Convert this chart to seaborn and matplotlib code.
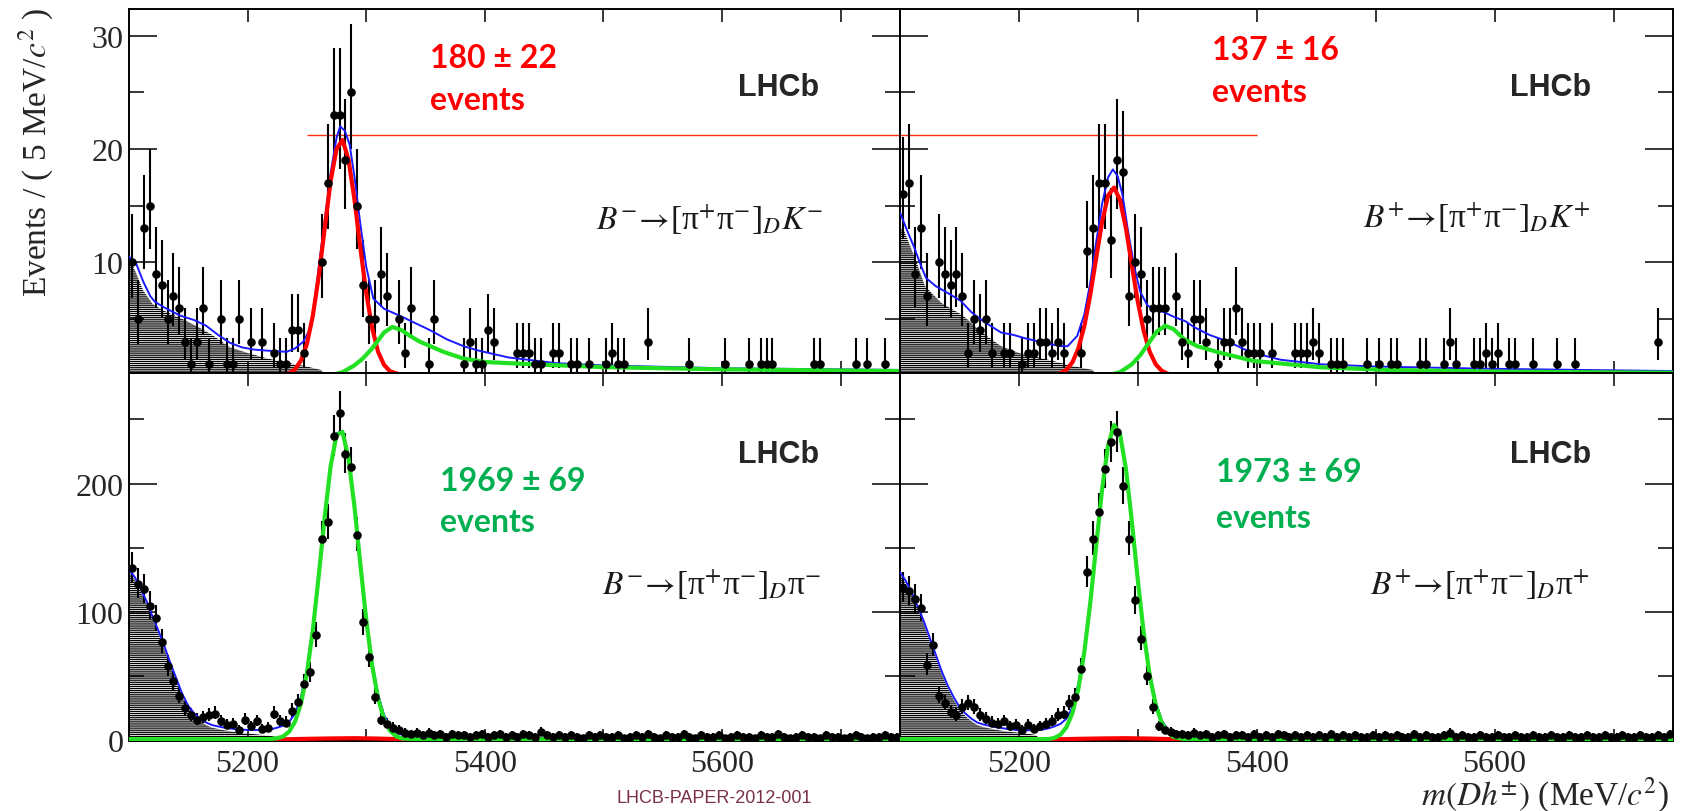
import numpy as np
import pandas as pd
import matplotlib
matplotlib.use("Agg")
import matplotlib.pyplot as plt
import seaborn as sns
from matplotlib.ticker import FixedLocator

# ---------------- data ----------------
# top-left  B- -> [pi pi]_D K-   (only non-empty 5 MeV bins)
tl_mass = [5102.5, 5107.5, 5112.5, 5117.5, 5122.5, 5127.5, 5132.5, 5137.5, 5142.5, 5147.5,
           5152.5, 5157.5, 5162.5, 5167.5, 5177.5, 5182.5, 5187.5, 5192.5, 5202.5, 5212.5,
           5222.5, 5227.5, 5232.5, 5237.5, 5242.5, 5247.5, 5262.5, 5267.5, 5272.5, 5277.5,
           5282.5, 5287.5, 5292.5, 5297.5, 5302.5, 5307.5, 5312.5, 5317.5, 5327.5, 5332.5,
           5337.5, 5352.5, 5357.5, 5382.5, 5387.5, 5392.5, 5397.5, 5402.5, 5407.5, 5427.5,
           5432.5, 5437.5, 5442.5, 5447.5, 5457.5, 5462.5, 5472.5, 5477.5, 5487.5, 5502.5,
           5507.5, 5512.5, 5517.5, 5537.5, 5572.5, 5602.5, 5622.5, 5632.5, 5637.5, 5642.5,
           5677.5, 5682.5, 5712.5, 5722.5, 5737.5]
tl_count = [10, 5, 13, 15, 9, 8, 5, 7, 6, 3,
            1, 3, 6, 1, 5, 1, 1, 5, 3, 3,
            2, 1, 1, 4, 4, 2, 10, 17, 23, 23,
            19, 25, 15, 8, 5, 5, 9, 7, 5, 2,
            6, 1, 5, 1, 3, 1, 1, 4, 3, 2,
            2, 2, 1, 1, 2, 2, 1, 1, 1, 1,
            2, 1, 1, 3, 1, 1, 1, 1, 1, 1,
            1, 1, 1, 1, 1]

# top-right  B+ -> [pi pi]_D K+
tr_mass = [5102.5, 5107.5, 5112.5, 5117.5, 5122.5, 5132.5, 5137.5, 5142.5, 5147.5, 5152.5,
           5157.5, 5162.5, 5167.5, 5172.5, 5177.5, 5187.5, 5192.5, 5202.5, 5207.5, 5212.5,
           5217.5, 5222.5, 5227.5, 5232.5, 5237.5, 5252.5, 5257.5, 5262.5, 5267.5, 5272.5,
           5277.5, 5282.5, 5287.5, 5292.5, 5297.5, 5302.5, 5307.5, 5312.5, 5317.5, 5322.5,
           5332.5, 5337.5, 5342.5, 5347.5, 5352.5, 5357.5, 5367.5, 5372.5, 5377.5, 5382.5,
           5387.5, 5392.5, 5397.5, 5402.5, 5412.5, 5432.5, 5437.5, 5442.5, 5447.5, 5452.5,
           5462.5, 5467.5, 5472.5, 5492.5, 5502.5, 5512.5, 5517.5, 5537.5, 5542.5, 5557.5,
           5562.5, 5567.5, 5582.5, 5587.5, 5592.5, 5597.5, 5602.5, 5612.5, 5617.5, 5632.5,
           5652.5, 5667.5, 5737.5]
tr_count = [16, 17, 9, 13, 7, 10, 9, 8, 9, 7,
            2, 5, 4, 5, 2, 2, 2, 1, 2, 2,
            3, 3, 2, 3, 2, 2, 11, 13, 17, 17,
            12, 19, 18, 7, 10, 9, 5, 6, 6, 6,
            7, 3, 2, 5, 5, 3, 1, 3, 3, 6,
            3, 2, 2, 2, 2, 2, 2, 2, 3, 2,
            1, 1, 1, 1, 1, 1, 1, 1, 1, 1,
            3, 1, 1, 1, 2, 1, 2, 1, 1, 1,
            1, 1, 3]

# bottom panels: every 5 MeV bin from 5102.5 to 5747.5 (10 bins per row)
bl_count = [134, 122, 118, 105, 95, 77, 58, 46, 35, 25,
            20, 16, 18, 20, 21, 15, 12, 13, 8, 16,
            11, 15, 9, 10, 21, 15, 14, 23, 30, 44,
            53, 82, 157, 170, 237, 255, 223, 213, 160, 92,
            65, 34, 16, 13, 10, 8, 6, 5, 6, 4,
            6, 4, 5, 3, 5, 4, 4, 3, 4, 5,
            3, 4, 5, 3, 4, 3, 5, 4, 3, 7,
            4, 3, 4, 3, 4, 3, 2, 4, 3, 4,
            3, 3, 4, 2, 3, 4, 3, 5, 3, 2,
            4, 3, 3, 5, 3, 2, 4, 3, 3, 4,
            2, 3, 4, 3, 3, 2, 4, 3, 3, 5,
            3, 2, 3, 4, 3, 3, 2, 4, 3, 3,
            2, 3, 4, 3, 2, 3, 3, 4, 3, 3]
br_count = [119, 116, 110, 103, 59, 74, 35, 29, 22, 20,
            26, 29, 26, 20, 17, 14, 13, 15, 11, 12,
            8, 12, 9, 11, 13, 15, 20, 21, 29, 34,
            56, 131, 157, 178, 211, 232, 240, 198, 157, 109,
            79, 50, 26, 11, 8, 7, 5, 5, 4, 6,
            4, 5, 3, 4, 5, 3, 4, 4, 3, 5,
            3, 4, 3, 5, 4, 3, 4, 3, 4, 3,
            4, 3, 5, 3, 4, 3, 4, 3, 3, 4,
            3, 4, 3, 4, 3, 3, 5, 3, 4, 3,
            3, 4, 6, 3, 4, 3, 3, 4, 3, 3,
            4, 3, 3, 4, 3, 3, 4, 3, 3, 4,
            3, 3, 4, 3, 3, 4, 3, 3, 4, 3,
            3, 4, 3, 3, 4, 3, 3, 4, 3, 5]
bin_centers = [5102.5 + 5 * i for i in range(130)]

# fit curves
tl_blue_x = [5100, 5106, 5112, 5118, 5122, 5130, 5143, 5155, 5165, 5175, 5185, 5195, 5205, 5217,
             5233, 5240, 5247, 5254, 5260, 5265, 5270, 5275, 5278, 5282, 5286, 5290, 5295, 5300,
             5306, 5315, 5330, 5342, 5354, 5368, 5382, 5395, 5420, 5460, 5500, 5600, 5750]
tl_blue_y = [10.5, 9.9, 8.3, 7.0, 6.5, 6.0, 5.3, 4.9, 4.4, 3.6, 2.9, 2.5, 2.3, 2.2,
             2.1, 2.4, 3.0, 4.4, 9.6, 13.7, 17.9, 21.0, 22.0, 21.6, 20.4, 17.6, 13.4, 9.6,
             6.8, 5.9, 5.2, 4.6, 4.0, 3.2, 2.6, 2.2, 1.6, 1.1, 0.9, 0.65, 0.5]
tl_red_x = [5225, 5230, 5235, 5240, 5245, 5250, 5255, 5260, 5265, 5270, 5275, 5280, 5285,
            5290, 5295, 5300, 5305, 5310, 5315, 5320, 5330]
tl_red_y = [0.03, 0.07, 0.2, 0.56, 1.33, 2.8, 5.3, 8.8, 13.0, 17.2, 20.0, 20.8, 19.1,
            15.6, 11.3, 7.3, 4.2, 2.1, 0.95, 0.38, 0.04]
tl_green_x = [5270, 5280, 5290, 5297, 5305, 5310, 5315, 5322, 5330, 5337, 5345, 5354, 5365,
              5382, 5400, 5440, 5500, 5600, 5750]
tl_green_y = [0.05, 0.3, 0.9, 1.5, 2.4, 3.1, 3.8, 4.3, 4.0, 3.5, 3.0, 2.6, 2.1,
              1.5, 1.2, 1.0, 0.75, 0.55, 0.4]
tl_hatch_x = [5100, 5105, 5112, 5120, 5130, 5145, 5160, 5170, 5185, 5200, 5217, 5235, 5250, 5262, 5265]
tl_hatch_y = [10.3, 9.3, 7.5, 6.3, 5.7, 5.0, 4.2, 3.6, 2.5, 2.0, 1.5, 1.1, 0.8, 0.5, 0.0]

tr_blue_x = [5100, 5106, 5112, 5118, 5122, 5130, 5140, 5151, 5160, 5170, 5185, 5195, 5205, 5221,
             5235, 5241, 5249, 5255, 5260, 5265, 5270, 5275, 5279, 5283, 5287, 5292, 5297, 5302,
             5308, 5315, 5322, 5330, 5340, 5347, 5360, 5376, 5390, 5401, 5420, 5454, 5500, 5597, 5750]
tr_blue_y = [14.4, 12.8, 11.3, 9.6, 8.6, 7.9, 7.3, 6.6, 5.6, 4.8, 3.8, 3.6, 3.3, 2.9,
             2.6, 2.6, 3.5, 5.4, 8.2, 11.8, 15.2, 17.5, 18.2, 17.6, 16.0, 12.6, 9.6, 7.4,
             6.2, 5.8, 5.6, 5.2, 4.8, 4.3, 3.6, 3.0, 2.3, 1.9, 1.4, 1.0, 0.8, 0.6, 0.4]
tr_red_x = [5230, 5235, 5240, 5245, 5250, 5255, 5260, 5265, 5270, 5275, 5280, 5285, 5290,
            5295, 5300, 5305, 5310, 5315, 5320, 5325, 5330]
tr_red_y = [0.07, 0.2, 0.52, 1.18, 2.4, 4.37, 7.13, 10.4, 13.6, 15.9, 16.6, 15.5, 13.0,
            9.7, 6.5, 3.9, 2.1, 1.0, 0.43, 0.17, 0.06]
tr_green_x = [5275, 5285, 5295, 5302, 5310, 5316, 5323, 5330, 5339, 5350, 5368, 5397, 5454,
              5511, 5600, 5750]
tr_green_y = [0.05, 0.3, 1.0, 1.8, 3.0, 3.9, 4.4, 4.1, 3.2, 2.6, 2.05, 1.3, 0.73,
              0.5, 0.35, 0.25]
tr_hatch_x = [5100, 5103, 5114, 5121, 5135, 5153, 5169, 5185, 5200, 5217, 5243, 5262, 5266]
tr_hatch_y = [13.0, 12.9, 10.0, 7.9, 6.4, 5.3, 3.8, 2.6, 2.0, 1.6, 0.9, 0.5, 0.0]

b_curve_x = [5100, 5105, 5110, 5115, 5120, 5125, 5130, 5135, 5140, 5145, 5150, 5155, 5160,
             5165, 5170, 5180, 5190, 5200, 5210, 5220, 5225, 5230, 5235, 5240, 5245, 5250,
             5255, 5260, 5265, 5270, 5275, 5280, 5285, 5290, 5295, 5300, 5305, 5310, 5315,
             5320, 5325, 5330, 5340, 5360, 5400, 5500, 5600, 5750]
bl_blue_y = [133, 127, 118, 108, 96, 85, 73, 60, 48, 36, 27, 21, 17,
             14, 12, 10, 8.8, 8.2, 8.2, 8.8, 10, 11.5, 14.5, 21, 34, 56,
             89, 131, 176, 215, 239, 241, 222, 185, 140, 97, 61, 36, 20,
             11, 6.5, 4.5, 3.2, 2.5, 2.0, 1.6, 1.3, 1.0]
bl_green_y = [1.0, 1.0, 1.0, 1.0, 1.0, 1.0, 1.0, 1.0, 1.0, 1.0, 1.0, 1.0, 1.0,
              1.0, 1.0, 1.0, 1.0, 1.0, 1.0, 1.2, 1.8, 3.2, 6.9, 14.6, 28.8, 52.3,
              86.1, 128.5, 174, 213.6, 237.8, 240.1, 220, 182.7, 137.6, 94, 58.3, 32.7, 16.7,
              7.7, 3.4, 1.6, 1.0, 1.0, 1.0, 1.0, 1.0, 1.0]
br_blue_y = [131, 124, 115, 104, 93, 80, 67, 54, 43, 34, 26, 21, 17,
             14, 12.5, 10.5, 9, 8, 8, 8.5, 9.5, 11, 13, 17, 26, 44,
             72, 110, 154, 198, 231, 246, 240, 213, 172, 127, 86, 53, 30,
             16, 8.5, 5, 3.2, 2.5, 2.0, 1.6, 1.3, 1.0]
br_green_y = [1.0, 1.0, 1.0, 1.0, 1.0, 1.0, 1.0, 1.0, 1.0, 1.0, 1.0, 1.0, 1.0,
              1.0, 1.0, 1.0, 1.0, 1.0, 1.0, 1.0, 1.2, 2.0, 4.6, 10.4, 21.4, 40.3,
              68.9, 107.2, 151.9, 195.9, 229.8, 245.5, 238.7, 211.3, 170, 124.6, 83.1, 50.5, 27.9,
              14.0, 6.4, 2.7, 1.0, 1.0, 1.0, 1.0, 1.0, 1.0]
b_red_x = [5205, 5215, 5230, 5250, 5270, 5290, 5310, 5330, 5345, 5360]
b_red_y = [0.0, 0.5, 0.9, 1.3, 1.6, 1.8, 1.5, 1.0, 0.5, 0.0]
bl_hatch_x = [5100, 5105, 5110, 5115, 5120, 5125, 5130, 5135, 5140, 5145, 5150, 5155, 5160,
              5165, 5170, 5180, 5190, 5200, 5210, 5220, 5226, 5228]
bl_hatch_y = [131, 125, 116, 106, 94, 83, 71, 58, 46, 34, 25, 19, 15,
              12, 10, 8, 6.5, 5.5, 4.5, 3.5, 2.5, 0]
br_hatch_x = [5100, 5105, 5110, 5115, 5120, 5125, 5130, 5135, 5140, 5145, 5150, 5155, 5160,
              5165, 5170, 5180, 5190, 5200, 5210, 5215, 5217]
br_hatch_y = [129, 122, 113, 102, 91, 78, 65, 52, 41, 32, 24, 19, 15,
              12, 10.5, 8.5, 7, 6, 5, 4, 0]

signal_text = ["180 \u00b1 22", "137 \u00b1 16", "1969 \u00b1 69", "1973 \u00b1 69"]
decay_text = [r"$B^{-}\!\rightarrow\!$[" + "\u03c0$^{+}$\u03c0$^{-}$]$_{D}K^{-}$",
              r"$B^{+}\!\rightarrow\!$[" + "\u03c0$^{+}$\u03c0$^{-}$]$_{D}K^{+}$",
              r"$B^{-}\!\rightarrow\!$[" + "\u03c0$^{+}$\u03c0$^{-}$]$_{D}$\u03c0$^{-}$",
              r"$B^{+}\!\rightarrow\!$[" + "\u03c0$^{+}$\u03c0$^{-}$]$_{D}$\u03c0$^{+}$"]
x_tick_major = [5200, 5400, 5600]
x_tick_minor = [5300, 5500, 5700]

# ---------------- style ----------------
sns.set_theme(style="white")
plt.rcParams['font.family'] = ['Liberation Serif', 'DejaVu Serif']
plt.rcParams['mathtext.fontset'] = 'stix'
plt.rcParams['hatch.linewidth'] = 0.9
plt.rcParams['hatch.color'] = 'black'

W, H = 1684, 812
fig = plt.figure(figsize=(W / 100, H / 100), dpi=100)


def fx(px):
    return px / W


def fy(py):
    return 1 - py / H


x_left, x_mid, x_right = 129, 900, 1673
y_top, y_div, y_bot = 9.5, 374, 741.5
ax_tl = fig.add_axes([fx(x_left), fy(y_div), fx(x_mid) - fx(x_left), fy(y_top) - fy(y_div)])
ax_tr = fig.add_axes([fx(x_mid), fy(y_div), fx(x_right) - fx(x_mid), fy(y_top) - fy(y_div)])
ax_bl = fig.add_axes([fx(x_left), fy(y_bot), fx(x_mid) - fx(x_left), fy(y_div) - fy(y_bot)])
ax_br = fig.add_axes([fx(x_mid), fy(y_bot), fx(x_right) - fx(x_mid), fy(y_div) - fy(y_bot)])

BLUE = '#1a1aff'
RED = '#ff0000'
GREEN = '#22e022'


def poisson_err(counts):
    n = np.asarray(counts, dtype=float)
    lo = np.sqrt(np.clip(n - 0.25, 0, None))
    hi = np.sqrt(n + 0.75) + 1.0
    return lo, hi


def draw_panel(ax, mass, counts, hatch_x, hatch_y, curves, ylim, ymaj, ymin_t):
    hx = np.asarray(hatch_x)
    hy = np.asarray(hatch_y)
    ax.fill_between(hx, -5, hy, facecolor='none', edgecolor='black', hatch='--------',
                    linewidth=0, zorder=1)
    lo, hi = poisson_err(counts)
    m = np.asarray(mass)
    c = np.asarray(counts, dtype=float)
    ax.vlines(m, c - lo, c + hi, color='black', lw=1.5, zorder=3)
    for (cx, cy, col, lw, z) in curves:
        sns.lineplot(x=cx, y=cy, ax=ax, color=col, lw=lw, estimator=None, sort=False,
                     zorder=z, legend=False)
    sns.scatterplot(x=m, y=c, ax=ax, color='black', s=38, edgecolor='black',
                    linewidth=0, zorder=6, legend=False)
    ax.set_xlim(5100, 5750)
    ax.set_ylim(*ylim)
    ax.xaxis.set_major_locator(FixedLocator(x_tick_major))
    ax.xaxis.set_minor_locator(FixedLocator(x_tick_minor))
    ax.yaxis.set_major_locator(FixedLocator(ymaj))
    ax.yaxis.set_minor_locator(FixedLocator(ymin_t))
    ax.tick_params(axis='x', which='both', direction='in', top=True, bottom=True,
                   length=9, width=1.1, color='black', labelsize=23, pad=6)
    ax.tick_params(axis='y', which='major', direction='in', left=True, right=True,
                   length=20, width=1.1, color='black', labelsize=23, pad=4)
    ax.tick_params(axis='y', which='minor', direction='in', left=True, right=True,
                   length=11, width=1.1, color='black')
    ax.set_xlabel('')
    ax.set_ylabel('')
    for s in ax.spines.values():
        s.set_color('black')
        s.set_linewidth(1.4)
    ax.set_facecolor('white')


draw_panel(ax_tl, tl_mass, tl_count, tl_hatch_x, tl_hatch_y,
           [(tl_blue_x, tl_blue_y, BLUE, 1.4, 4),
            (tl_red_x, tl_red_y, RED, 3.0, 5),
            (tl_green_x, tl_green_y, GREEN, 3.0, 5)],
           (0.23, 32.4), [10, 20, 30], [5, 15, 25])
draw_panel(ax_tr, tr_mass, tr_count, tr_hatch_x, tr_hatch_y,
           [(tr_blue_x, tr_blue_y, BLUE, 1.4, 4),
            (tr_red_x, tr_red_y, RED, 3.0, 5),
            (tr_green_x, tr_green_y, GREEN, 3.0, 5)],
           (0.23, 32.4), [10, 20, 30], [5, 15, 25])
draw_panel(ax_bl, bin_centers, bl_count, bl_hatch_x, bl_hatch_y,
           [(b_curve_x, bl_blue_y, BLUE, 1.4, 4),
            (b_red_x, b_red_y, RED, 3.0, 5),
            (b_curve_x, bl_green_y, GREEN, 3.0, 5)],
           (0, 286), [0, 100, 200], [50, 150, 250])
draw_panel(ax_br, bin_centers, br_count, br_hatch_x, br_hatch_y,
           [(b_curve_x, br_blue_y, BLUE, 1.4, 4),
            (b_red_x, b_red_y, RED, 3.0, 5),
            (b_curve_x, br_green_y, GREEN, 3.0, 5)],
           (0, 286), [0, 100, 200], [50, 150, 250])

for ax in (ax_tl, ax_tr):
    ax.tick_params(axis='x', which='both', labelbottom=False)
for ax in (ax_tr, ax_br):
    ax.tick_params(axis='y', which='both', labelleft=False)

# red reference line across the two top panels
ax_tl.hlines(21.24, 5250, 5750, color='#ff3010', lw=1.0, zorder=2)
ax_tr.hlines(21.24, 5100, 5400, color='#ff3010', lw=1.0, zorder=2)

# ---------------- text ----------------
lhcb_pos = [(779, 88), (1551, 88), (779, 455), (1551, 455)]
for (px, py) in lhcb_pos:
    fig.text(fx(px), fy(py), "LHCb", ha='center', va='center', fontsize=22,
             fontweight='bold', family=['Liberation Sans', 'DejaVu Sans'])

decay_pos = [(710, 220), (1477, 218), (712, 585), (1480, 585)]
for (px, py), t in zip(decay_pos, decay_text):
    fig.text(fx(px), fy(py), t, ha='center', va='center', fontsize=24, color='#1a1a1a')

sig_pos = [(430, 58, 100), (1212, 50, 93), (440, 482, 523), (1216, 473, 518)]
sig_col = [RED, RED, '#00b050', '#00b050']
for (px, py1, py2), t, col in zip(sig_pos, signal_text, sig_col):
    fig.text(fx(px), fy(py1), t, ha='left', va='center', fontsize=23, fontweight='bold',
             color=col, family=['Lato', 'DejaVu Sans'])
    fig.text(fx(px), fy(py2), "events", ha='left', va='center', fontsize=23,
             fontweight='bold', color=col, family=['Lato', 'DejaVu Sans'])

fig.text(fx(36), fy(152), r"Events / ( 5 MeV/$c^{2}$ )", rotation=90, ha='center',
         va='center', fontsize=24)
fig.text(fx(1669), fy(795), r"$m(Dh^{\pm})$ (MeV/$c^{2}$)", ha='right', va='center',
         fontsize=24)
fig.text(fx(714), fy(799), "LHCB-PAPER-2012-001", ha='center', va='center', fontsize=13,
         color='#7a3048', family=['Liberation Sans', 'DejaVu Sans'])

fig.savefig("out.png", dpi=100, facecolor='white')
